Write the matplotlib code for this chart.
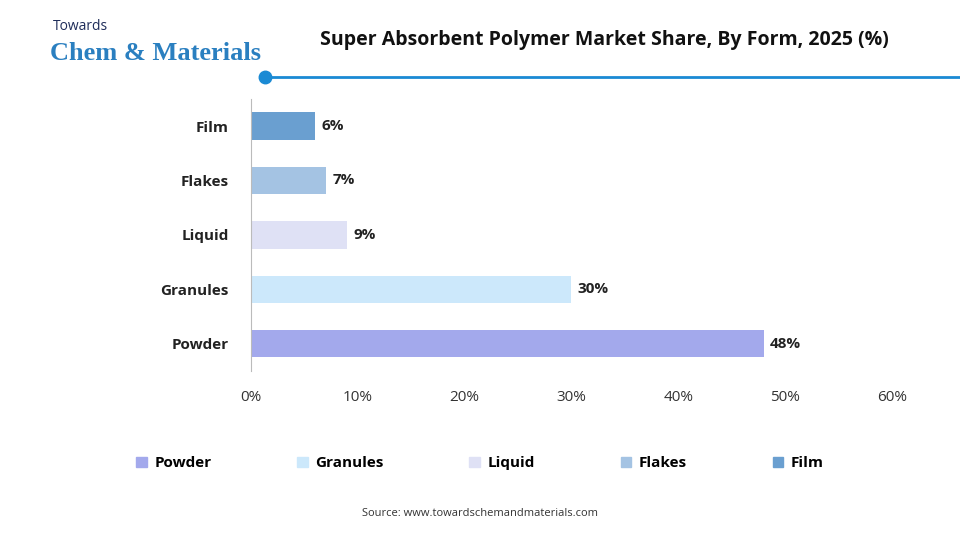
import matplotlib.pyplot as plt
from matplotlib.patches import Patch

categories = ['Powder', 'Granules', 'Liquid', 'Flakes', 'Film']
shares = [48, 30, 9, 7, 6]
colors = ['#a3a9ec', '#cce8fb', '#dfe1f5', '#a4c3e3', '#6a9fd0']
xticks = [0, 10, 20, 30, 40, 50, 60]

plt.rcParams['font.family'] = ['Open Sans', 'DejaVu Sans']

fig = plt.figure(figsize=(9.6, 5.4), dpi=100)
ax = fig.add_axes([0.2615, 0.313, 0.6675, 0.504])

ax.barh(range(len(categories)), shares, height=0.5, color=colors)
for i, v in enumerate(shares):
    ax.text(v + 0.6, i, f'{v}%', va='center', ha='left', fontsize=11,
            fontweight='bold', color='#222222')

ax.set_xlim(0, 60)
ax.set_ylim(-0.5, 4.5)
ax.set_yticks(range(len(categories)))
ax.set_yticklabels(categories, fontsize=11, fontweight='bold', color='#222222')
ax.set_xticks(xticks)
ax.set_xticklabels([f'{t}%' for t in xticks], fontsize=11, color='#333333')
ax.tick_params(axis='both', length=0)
ax.tick_params(axis='x', pad=14)
ax.tick_params(axis='y', pad=16)
for s in ['top', 'right', 'bottom']:
    ax.spines[s].set_visible(False)
ax.spines['left'].set_color('#bbbbbb')

handles = [Patch(color=c, label=l) for c, l in zip(colors, categories)]
fig.legend(handles=handles, loc='center', bbox_to_anchor=(0.5, 0.142), ncol=5,
           frameon=False, handlelength=0.7, handleheight=0.7, columnspacing=5.6,
           handletextpad=0.5, prop={'size': 11, 'weight': 'bold'})

fig.text(0.63, 0.925, 'Super Absorbent Polymer Market Share, By Form, 2025 (%)',
         ha='center', va='center', fontsize=14, fontweight='bold', color='#111111')
fig.add_artist(plt.Line2D([0.276, 1.0], [0.857, 0.857], color='#1a8ad4', lw=2))
fig.add_artist(plt.Line2D([0.276], [0.857], marker='o', ms=9, color='#1a8ad4'))

fig.text(0.055, 0.945, 'Towards', fontsize=10, color='#1f2d5a')
fig.text(0.052, 0.888, 'Chem & Materials', fontsize=19, color='#2a7fc0',
         family=['Liberation Serif', 'DejaVu Serif'], fontweight='bold')

fig.text(0.5, 0.045, 'Source: www.towardschemandmaterials.com', ha='center',
         fontsize=8, color='#333333')

fig.savefig('out.png', dpi=100, facecolor='white')
